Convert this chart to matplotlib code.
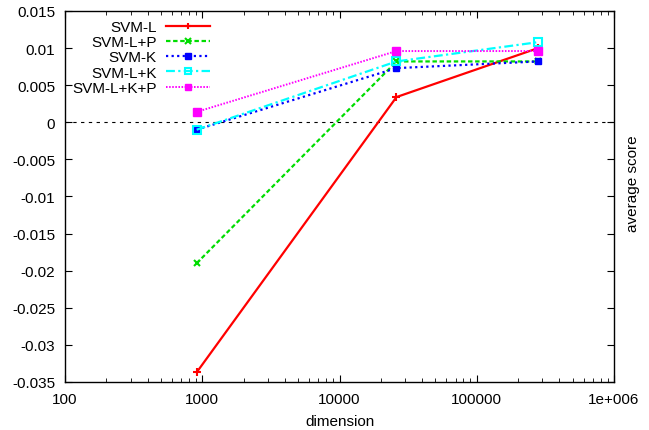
import matplotlib
matplotlib.use('Agg')
import matplotlib.pyplot as plt
from matplotlib.ticker import LogLocator, FixedLocator, NullFormatter

plt.rcParams['font.family'] = ['Liberation Sans', 'DejaVu Sans']

# data
dims = [910, 26000, 280000]
labels = ['SVM-L', 'SVM-L+P', 'SVM-K', 'SVM-L+K', 'SVM-L+K+P']
svm_l = [-0.0337, 0.0034, 0.0100]
svm_lp = [-0.0190, 0.0082, 0.0082]
svm_k = [-0.0010, 0.0073, 0.0082]
svm_lk = [-0.0010, 0.0082, 0.0108]
svm_lkp = [0.0014, 0.0096, 0.0096]

fig = plt.figure(figsize=(6.49, 4.31), dpi=100)
ax = fig.add_axes([0.1002, 0.1114, 0.8459, 0.8608])

ax.axhline(0, color='black', lw=0.8, ls=(0, (3, 4)))

ax.plot(dims, svm_l, color='#ff0000', lw=1.6, ls='-', marker='+', ms=6, mew=1.5, label=labels[0])
ax.plot(dims, svm_lp, color='#00dd00', lw=1.6, ls=(0, (2, 1.2)), marker='x', ms=5, mew=1.5, label=labels[1])
ax.plot(dims, svm_k, color='#0000ff', lw=1.6, ls=(0, (1, 1.5)), marker='s', ms=5, label=labels[2])
ax.plot(dims, svm_lk, color='#00ffff', lw=1.6, ls=(0, (4, 1.5, 1, 1.5)), marker='s', ms=6,
        mfc='none', mew=1.5, label=labels[3])
ax.plot(dims, svm_lkp, color='#ff00ff', lw=1.4, ls=(0, (0.8, 0.8)), marker='s', ms=6, label=labels[4])

ax.set_xscale('log')
ax.set_xlim(100, 1e6)
ax.set_ylim(-0.035, 0.015)
ax.xaxis.set_major_locator(FixedLocator([100, 1000, 10000, 100000, 1e6]))
ax.set_xticklabels(['100', '1000', '10000', '100000', '1e+006'])
ax.xaxis.set_minor_locator(LogLocator(base=10, subs=range(2, 10)))
ax.xaxis.set_minor_formatter(NullFormatter())
yt = [-0.035, -0.03, -0.025, -0.02, -0.015, -0.01, -0.005, 0, 0.005, 0.01, 0.015]
ax.set_yticks(yt)
ax.set_yticklabels(['-0.035', '-0.03', '-0.025', '-0.02', '-0.015', '-0.01', '-0.005', '0',
                    '0.005', '0.01', '0.015'])

ax.tick_params(which='both', direction='in', top=True, right=True, labelsize=11)
ax.tick_params(which='major', length=5, width=0.8)
ax.tick_params(which='minor', length=3, width=0.6)
ax.tick_params(axis='y', pad=7)
ax.tick_params(axis='x', pad=7)
for s in ax.spines.values():
    s.set_linewidth(1.0)

ax.set_xlabel('dimension', fontsize=11, labelpad=6)
ax.yaxis.set_label_position('right')
ax.set_ylabel('average score', fontsize=11)
ax.yaxis.set_label_coords(1.022, 0.536)

ax.legend(loc='upper left', bbox_to_anchor=(72 / 649, (431 - 21) / 431), bbox_transform=fig.transFigure,
          frameon=False, markerfirst=False, fontsize=11, handlelength=2.9, labelspacing=0.08,
          borderpad=0, borderaxespad=0, handletextpad=0.6, markerscale=0.8)

fig.savefig('out.png', dpi=100)
